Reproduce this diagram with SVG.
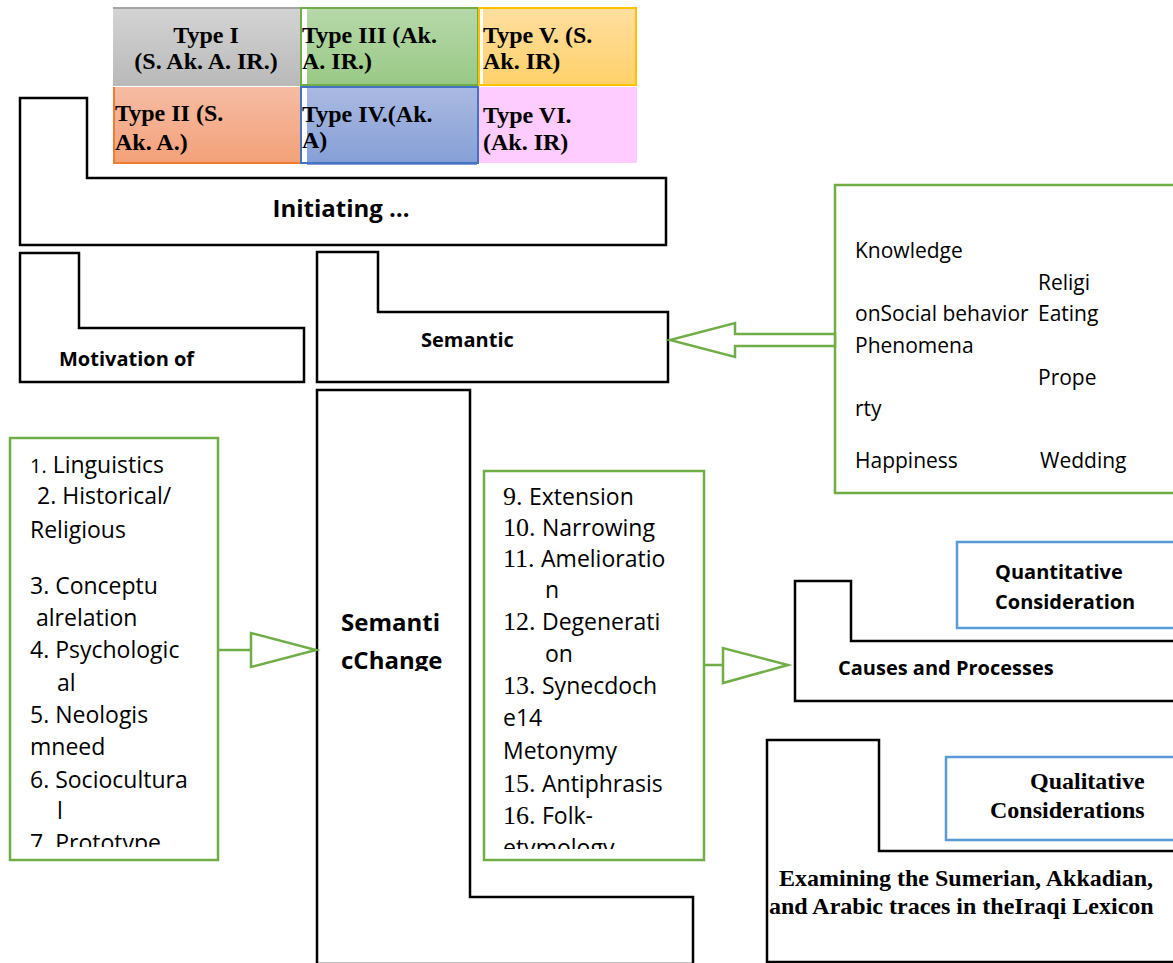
<svg xmlns="http://www.w3.org/2000/svg" width="1173" height="963" viewBox="0 0 1173 963">
<style>
.blk{fill:#fff;stroke:#000;stroke-width:2.5}
.grn{fill:#fff;stroke:#70ad47;stroke-width:2.5}
.blu{fill:#fff;stroke:#5b9bd5;stroke-width:2.5}
.tt{font-family:"Liberation Serif",serif;font-weight:bold;font-size:24px;fill:#000}
.sb{font-family:"Open Sans",sans-serif;font-weight:bold;font-size:20px;fill:#000}
.big{font-size:24px}
.sr{font-family:"Open Sans",sans-serif;font-size:21px;fill:#000}
.sl{font-family:"Open Sans",sans-serif;font-size:23px;fill:#000}
.sf{font-family:"Liberation Serif",serif;font-size:26px}
.sm{font-size:20px}
</style>
<defs>
<linearGradient id="gGray" x1="0" y1="0" x2="0" y2="1"><stop offset="0" stop-color="#d4d4d4"/><stop offset="1" stop-color="#b9b9b9"/></linearGradient>
<linearGradient id="gGreen" x1="0" y1="0" x2="0" y2="1"><stop offset="0" stop-color="#b7d8aa"/><stop offset="1" stop-color="#99c985"/></linearGradient>
<linearGradient id="gYel" x1="0" y1="0" x2="0" y2="1"><stop offset="0" stop-color="#ffdea0"/><stop offset="1" stop-color="#ffd16a"/></linearGradient>
<linearGradient id="gSal" x1="0" y1="0" x2="0" y2="1"><stop offset="0" stop-color="#f6bca4"/><stop offset="1" stop-color="#f3a078"/></linearGradient>
<linearGradient id="gBlue" x1="0" y1="0" x2="0" y2="1"><stop offset="0" stop-color="#abb9e2"/><stop offset="1" stop-color="#849fd6"/></linearGradient>
<clipPath id="cLeft"><rect x="10" y="438" width="208" height="409"/></clipPath>
<clipPath id="cMid"><rect x="484" y="471" width="220" height="378"/></clipPath>
<clipPath id="cSC"><rect x="320" y="392" width="148" height="279"/></clipPath>
</defs>

<g id="type-table">
  <rect x="113" y="7" width="187" height="79" fill="url(#gGray)"/>
  <line x1="113" y1="8" x2="300" y2="8" stroke="#a5a5a5" stroke-width="2"/>
  <rect x="307" y="8" width="170" height="77" fill="url(#gGreen)"/>
  <rect x="301" y="8" width="177" height="77" fill="none" stroke="#70ad47" stroke-width="2"/>
  <rect x="483" y="8" width="153" height="77" fill="url(#gYel)"/>
  <rect x="479" y="8" width="157" height="77" fill="none" stroke="#ffc000" stroke-width="2"/>
  <rect x="113" y="87" width="187" height="77" fill="url(#gSal)"/>
  <path d="M114 87 V163 H300" fill="none" stroke="#ed7d31" stroke-width="2"/>
  <rect x="307" y="88" width="170" height="77" fill="url(#gBlue)"/>
  <rect x="301" y="87" width="177" height="76" fill="none" stroke="#4472c4" stroke-width="2"/>
  <rect x="479" y="87" width="158" height="76" fill="#ffccff"/>
  <text class="tt" x="206" y="43" text-anchor="middle">Type I</text>
  <text class="tt" x="206" y="69" text-anchor="middle">(S. Ak. A. IR.)</text>
  <text class="tt" x="302" y="43">Type III (Ak.</text>
  <text class="tt" x="302" y="69">A. IR.)</text>
  <text class="tt" x="483" y="43">Type V. (S.</text>
  <text class="tt" x="483" y="69">Ak. IR)</text>
  <text class="tt" x="115" y="121">Type II (S.</text>
  <text class="tt" x="115" y="150">Ak. A.)</text>
  <text class="tt" x="302" y="122">Type IV.(Ak.</text>
  <text class="tt" x="302" y="148">A)</text>
  <text class="tt" x="483" y="123">Type VI.</text>
  <text class="tt" x="483" y="150">(Ak. IR)</text>
</g>

<g id="initiating">
  <path class="blk" d="M20 98 H87 V178 H666 V245 H20 Z"/>
  <text class="sb big" x="341" y="217" text-anchor="middle">Initiating …</text>
</g>

<g id="motivation">
  <path class="blk" d="M20 253 H79 V328 H304 V382 H20 Z"/>
  <text class="sb" x="59" y="366">Motivation of</text>
</g>

<g id="semantic">
  <path class="blk" d="M317 252 H378 V312 H668 V382 H317 Z"/>
  <text class="sb" x="421" y="347">Semantic</text>
</g>

<g id="domains">
  <rect class="grn" x="835" y="185" width="340" height="308"/>
  <text class="sr" x="855" y="258">Knowledge</text>
  <text class="sr" x="1038" y="290">Religi</text>
  <text class="sr" x="855" y="321">onSocial behavior</text>
  <text class="sr" x="1038" y="321">Eating</text>
  <text class="sr" x="855" y="353">Phenomena</text>
  <text class="sr" x="1038" y="385">Prope</text>
  <text class="sr" x="855" y="416">rty</text>
  <text class="sr" x="855" y="468">Happiness</text>
  <text class="sr" x="1040" y="468">Wedding</text>
</g>

<g id="semantic-change">
  <path class="blk" d="M317 390 H470 V897 H693 V964 H317 Z"/>
  <g clip-path="url(#cSC)">
    <text class="sb big" x="341" y="631">Semanti</text>
    <text class="sb big" x="341" y="669">cChange</text>
  </g>
</g>

<g id="causes-list">
  <rect class="grn" x="10" y="438" width="208" height="422"/>
  <g clip-path="url(#cLeft)">
    <text class="sl" x="30" y="473"><tspan class="sm">1.</tspan> Linguistics</text>
    <text class="sl" x="37" y="504">2. Historical/</text>
    <text class="sl" x="30" y="538">Religious</text>
    <text class="sl" x="30" y="594">3. Conceptu</text>
    <text class="sl" x="36" y="626">alrelation</text>
    <text class="sl" x="30" y="658">4. Psychologic</text>
    <text class="sl" x="57" y="691">al</text>
    <text class="sl" x="30" y="723">5. Neologis</text>
    <text class="sl" x="30" y="755">mneed</text>
    <text class="sl" x="30" y="788">6. Sociocultura</text>
    <text class="sl" x="57" y="819">l</text>
    <text class="sl" x="30" y="851">7. Prototype</text>
  </g>
</g>

<g id="processes-list">
  <rect class="grn" x="484" y="471" width="220" height="389"/>
  <g clip-path="url(#cMid)">
    <text class="sl" x="503" y="505"><tspan class="sf">9. </tspan>Extension</text>
    <text class="sl" x="503" y="536"><tspan class="sf">10. </tspan>Narrowing</text>
    <text class="sl" x="503" y="567"><tspan class="sf">11. </tspan>Amelioratio</text>
    <text class="sl" x="545" y="598">n</text>
    <text class="sl" x="503" y="630"><tspan class="sf">12. </tspan>Degenerati</text>
    <text class="sl" x="545" y="662">on</text>
    <text class="sl" x="503" y="694"><tspan class="sf">13. </tspan>Synecdoch</text>
    <text class="sl" x="503" y="726">e14</text>
    <text class="sl" x="503" y="759">Metonymy</text>
    <text class="sl" x="503" y="792"><tspan class="sf">15. </tspan>Antiphrasis</text>
    <text class="sl" x="503" y="824"><tspan class="sf">16. </tspan>Folk-</text>
    <text class="sl" x="503" y="856">etymology</text>
  </g>
</g>

<g id="causes-processes">
  <path class="blk" d="M795 581 H851 V641 H1175 V701 H795 Z"/>
  <text class="sb" x="838" y="675">Causes and Processes</text>
</g>

<g id="quantitative">
  <rect class="blu" x="957" y="542" width="218" height="86"/>
  <text class="sb" x="995" y="579">Quantitative</text>
  <text class="sb" x="995" y="609">Consideration</text>
</g>

<g id="examining">
  <path class="blk" d="M767 740 H879 V851 H1175 V962 H767 Z"/>
  <text class="tt" x="779" y="886">Examining the Sumerian, Akkadian,</text>
  <text class="tt" x="769" y="914">and Arabic traces in theIraqi Lexicon</text>
</g>

<g id="qualitative">
  <rect class="blu" x="946" y="757" width="229" height="83"/>
  <text class="tt" x="1030" y="789">Qualitative</text>
  <text class="tt" x="990" y="818">Considerations</text>
</g>

<g id="connectors">
  <polygon class="grn" points="835,334 735,334 735,323 670,340 735,357 735,346 835,346"/>
  <polygon class="grn" points="218,650 251,650 251,633 316,650 251,667 251,650"/>
  <polygon class="grn" points="704,665 723,665 723,648 788,665 723,683 723,665"/>
</g>
</svg>
